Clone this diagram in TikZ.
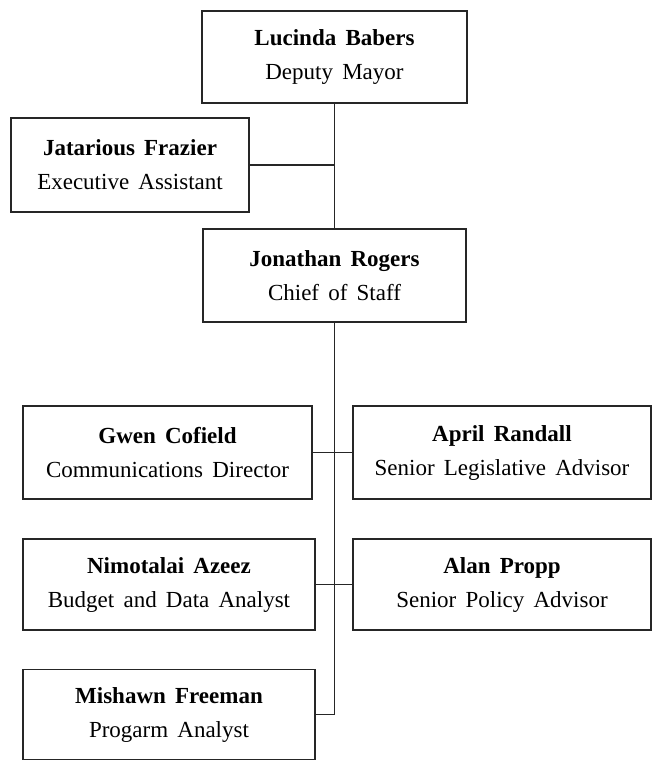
\documentclass[tikz,border=0pt]{standalone}
\usepackage{fontspec}
\setmainfont[WordSpace=1.6]{Liberation Serif}
\usepackage{tikz}
\usetikzlibrary{positioning, calc}

\begin{document}
\begin{tikzpicture}[
  x=0.5pt, y=-0.5pt,
  staffbox/.style={
    rectangle, draw=black!85, fill=white, line width=0.7pt,
    align=center, inner sep=0pt, outer sep=0pt,
    font=\fontsize{11.5}{17}\selectfont},
  link/.style={line width=0.7pt, draw=black!85},
]
\useasboundingbox (0,0) rectangle (652,762);

%% ---- Top of the chart ----
\node[staffbox, minimum width=132.5pt, minimum height=46pt] (babers) at (334.5, 57) {%
  \textbf{Lucinda Babers}\\
  Deputy Mayor};

\node[staffbox, minimum width=119pt, minimum height=47pt] (frazier) at (130, 165) {%
  \textbf{Jatarious Frazier}\\
  Executive Assistant};

\node[staffbox, minimum width=131.5pt, minimum height=46.5pt] (rogers) at (334.5, 275.5) {%
  \textbf{Jonathan Rogers}\\
  Chief of Staff};

%% ---- Staff under the chief of staff ----
\node[staffbox, minimum width=144.5pt, minimum height=46.5pt] (cofield) at (167.5, 452.5) {%
  \textbf{Gwen Cofield}\\
  Communications Director};

\node[staffbox, minimum width=149pt, minimum height=46.5pt] (randall) at (502, 452.5) {%
  \textbf{April Randall}\\
  Senior Legislative Advisor};

\node[staffbox, minimum width=146pt, minimum height=45.5pt] (azeez) at (169, 584.5) {%
  \textbf{Nimotalai Azeez}\\
  Budget and Data Analyst};

\node[staffbox, minimum width=149pt, minimum height=45.5pt] (propp) at (502, 584.5) {%
  \textbf{Alan Propp}\\
  Senior Policy Advisor};

\node[staffbox, minimum width=146pt, minimum height=45pt] (freeman) at (169, 714.5) {%
  \textbf{Mishawn Freeman}\\
  Progarm Analyst};

%% ---- Connectors ----
\draw[link] (babers.south) -- (rogers.north);
\draw[link] (frazier.east) -- (frazier.east -| babers.south);
\draw[link] (rogers.south) |- (freeman.east);
\draw[link] (cofield.east) -- (randall.west);
\draw[link] (azeez.east) -- (propp.west);

\end{tikzpicture}
\end{document}
